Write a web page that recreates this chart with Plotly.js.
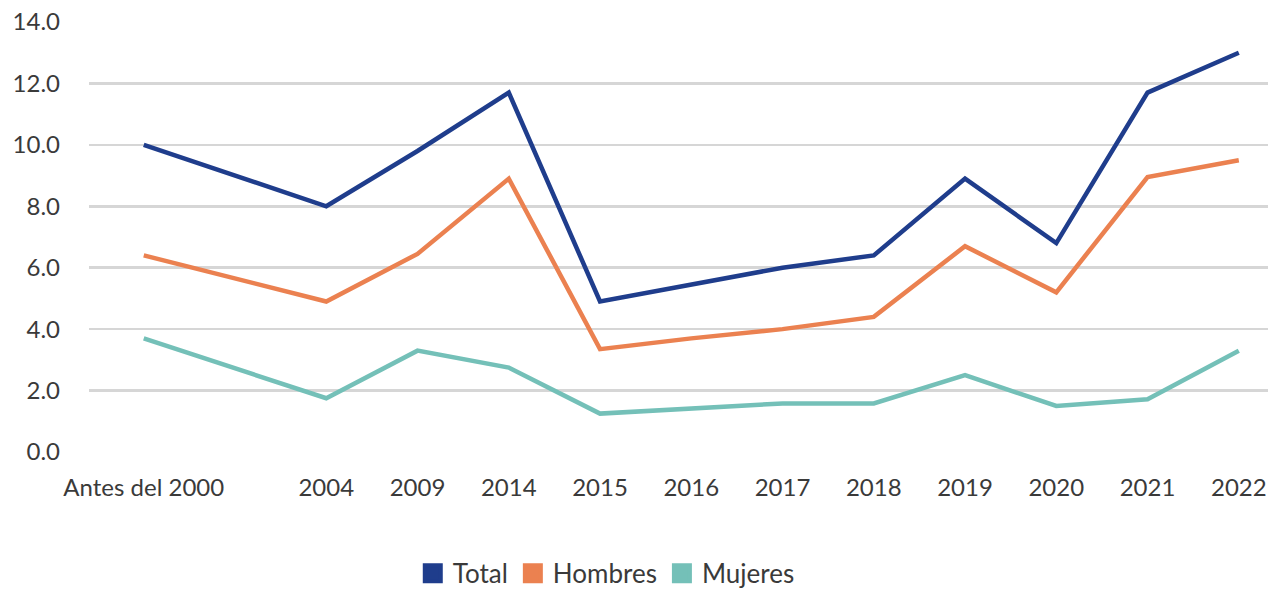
<!DOCTYPE html>
<html>
<head>
<meta charset="utf-8">
<script src="https://cdn.plot.ly/plotly-3.0.1.min.js"></script>
<style>
  html, body { margin: 0; padding: 0; background: #ffffff; }
  #chart { width: 1274px; height: 591px; }
</style>
</head>
<body>
<div id="chart"></div>
<script>
// Categories (x axis)
const categories = ["Antes del 2000", "2004", "2009", "2014", "2015", "2016", "2017", "2018", "2019", "2020", "2021", "2022"];

// Series values
const total    = [10.0, 8.0, 9.8, 11.7, 4.9, 5.45, 6.0, 6.4, 8.9, 6.8, 11.7, 13.0];
const hombres  = [6.4, 4.9, 6.45, 8.9, 3.35, 3.7, 4.0, 4.4, 6.7, 5.2, 8.95, 9.5];
const mujeres  = [3.7, 1.75, 3.3, 2.75, 1.25, 1.42, 1.58, 1.58, 2.5, 1.5, 1.72, 3.3];

const seriesNames = ["Total", "Hombres", "Mujeres"];
const yTickVals = [0, 2, 4, 6, 8, 10, 12, 14];
const yTickText = ["0.0", "2.0", "4.0", "6.0", "8.0", "10.0", "12.0", "14.0"];

const colors = ["#1f3d8c", "#eb8150", "#74c0b8"];
const values = [total, hombres, mujeres];

// Axis slot order: an empty slot follows the first category, as in the reference
const axisOrder = [categories[0], " "].concat(categories.slice(1));

const traces = [];
values.forEach((v, i) => {
  traces.push({
    type: "scatter",
    mode: "lines",
    x: categories,
    y: v,
    name: seriesNames[i],
    legendgroup: seriesNames[i],
    showlegend: false,
    line: { color: colors[i], width: 4.5 },
    hoverinfo: "x+y+name"
  });
});
// legend entries with square keys
values.forEach((v, i) => {
  traces.push({
    type: "scatter",
    mode: "markers",
    x: [null],
    y: [null],
    name: seriesNames[i],
    legendgroup: seriesNames[i],
    showlegend: true,
    marker: { symbol: "square", size: 16, color: colors[i], line: { color: colors[i], width: 4 } },
    hoverinfo: "skip"
  });
});

const font = "Lato, 'Open Sans', sans-serif";

const layout = {
  width: 1274,
  height: 591,
  margin: { l: 89, r: 6, t: 22, b: 139 },
  paper_bgcolor: "#ffffff",
  plot_bgcolor: "#ffffff",
  font: { family: font, size: 24, color: "#3a3a3a" },
  showlegend: true,
  legend: {
    orientation: "h",
    xref: "container",
    yref: "container",
    x: 0.324,
    xanchor: "left",
    y: 0.03,
    yanchor: "middle",
    font: { family: font, size: 26, color: "#3a3a3a" },
    itemwidth: 30,
    tracegroupgap: 0
  },
  xaxis: {
    type: "category",
    categoryorder: "array",
    categoryarray: axisOrder,
    range: [-0.6, 12.32],
    tickvals: categories,
    ticktext: categories,
    tickangle: 0,
    showgrid: false,
    zeroline: false,
    showline: false,
    ticks: "",
    ticklabelstandoff: 19,
    tickfont: { family: font, size: 24, color: "#3a3a3a" },
    fixedrange: true
  },
  yaxis: {
    range: [0, 14],
    tickvals: yTickVals,
    ticktext: yTickText,
    showgrid: true,
    gridcolor: "#d6d6d6",
    gridwidth: 2.5,
    zeroline: false,
    showline: false,
    ticks: "",
    ticklabelstandoff: 28,
    tickfont: { family: font, size: 24, color: "#3a3a3a" },
    fixedrange: true
  }
};

Plotly.newPlot("chart", traces, layout, { displayModeBar: false, staticPlot: true });
</script>
</body>
</html>
